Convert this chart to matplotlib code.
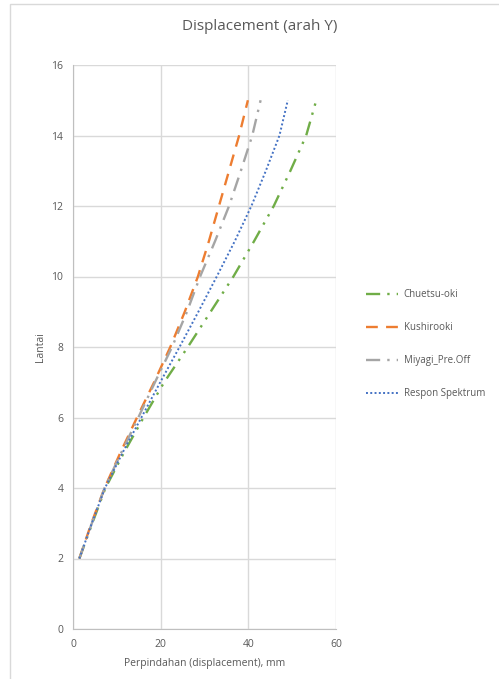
import matplotlib
matplotlib.use("Agg")
import matplotlib.pyplot as plt
from matplotlib.patches import Rectangle

plt.rcParams['font.family'] = ['Open Sans', 'DejaVu Sans']

lantai = [2, 3, 4, 5, 6, 7, 8, 9, 10, 11, 12, 13, 14, 15]
chuetsu = [1.45, 4.4, 7.4, 11.6, 16.1, 20.8, 26.2, 31.4, 36.6, 41.3, 45.8, 49.6, 53.2, 55.5]
kushirooki = [1.45, 4.2, 7.2, 10.8, 14.6, 18.5, 22.2, 25.5, 28.5, 31.0, 33.3, 35.6, 37.9, 39.9]
miyagi = [1.45, 4.3, 7.2, 11.0, 14.9, 18.7, 22.6, 26.0, 29.0, 32.4, 35.6, 38.3, 40.9, 42.8]
respon = [1.45, 4.3, 7.3, 11.3, 15.6, 19.9, 24.3, 28.6, 32.8, 36.9, 40.7, 44.0, 47.1, 49.0]

series_names = ["Chuetsu-oki", "Kushirooki", "Miyagi_Pre.Off", "Respon Spektrum"]
x_ticks = [0, 20, 40, 60]
y_ticks = [0, 2, 4, 6, 8, 10, 12, 14, 16]

W, H = 499, 679
fig = plt.figure(figsize=(W / 100, H / 100), dpi=100)
fig.patch.set_facecolor('white')

# chart border
fig.add_artist(Rectangle((10 / W, -0.01), 1.2, 1 - 4 / H + 0.01, transform=fig.transFigure,
                         fill=False, edgecolor='#d9d9d9', linewidth=1.0))

ax = fig.add_axes([73 / W, (H - 629) / H, 263 / W, 564 / H])
txt = '#595959'
ax.plot(chuetsu, lantai, color='#70AD47', lw=1.7, dashes=(6, 3, 1, 3, 1, 3), label=series_names[0])
ax.plot(kushirooki, lantai, color='#ED7D31', lw=1.7, dashes=(5, 3.5), label=series_names[1])
ax.plot(miyagi, lantai, color='#A5A5A5', lw=1.7, dashes=(6, 3, 1, 3), label=series_names[2])
ax.plot(respon, lantai, color='#4472C4', lw=1.4, dashes=(1, 1.2), label=series_names[3])

ax.set_xlim(0, 60)
ax.set_ylim(0, 16)
ax.set_xticks(x_ticks)
ax.set_yticks(y_ticks)
ax.grid(True, color='#d9d9d9', lw=1.0)
ax.set_axisbelow(True)
for s in ['top', 'right']:
    ax.spines[s].set_visible(False)
for s in ['left', 'bottom']:
    ax.spines[s].set_color('#bfbfbf')
ax.tick_params(length=0, colors=txt, labelsize=7.5, pad=7)
ax.set_xlabel('Perpindahan (displacement), mm', color=txt, fontsize=7.5, labelpad=6)
ax.set_ylabel('Lantai', color=txt, fontsize=7.5, labelpad=4)
fig.text(260 / W, 1 - 27 / H, 'Displacement (arah Y)', ha='center', va='center',
         color=txt, fontsize=11)

leg = ax.legend(loc='center left', bbox_to_anchor=(1.08, 0.505), frameon=False,
                fontsize=7, labelspacing=2.25, handlelength=3.3, handletextpad=0.6)
for t in leg.get_texts():
    t.set_color(txt)

fig.savefig('out.png', dpi=100)
